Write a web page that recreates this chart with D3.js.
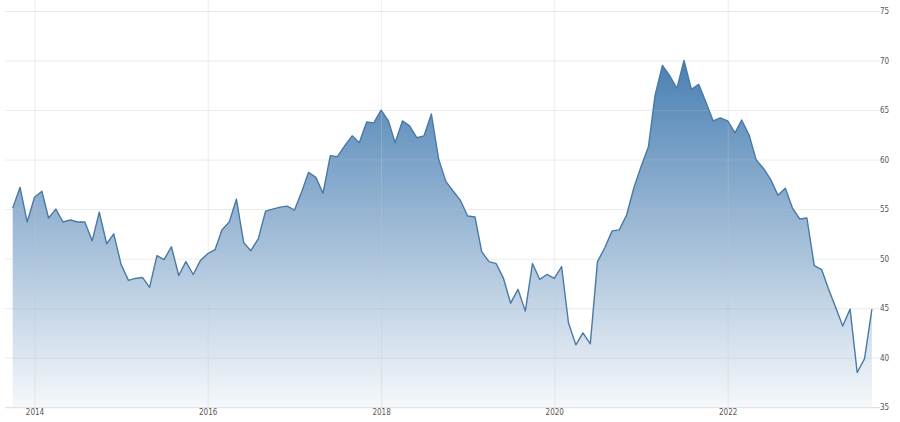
<!DOCTYPE html>
<html>
<head>
<meta charset="utf-8">
<script src="https://cdn.jsdelivr.net/npm/d3@7"></script>
<style>
  html, body { margin: 0; padding: 0; background: #fff; }
  #wrapper { width: 900px; height: 422px; }
  .tick text { font-family: "Liberation Sans Narrow", "Arial Narrow", "DejaVu Sans Condensed", sans-serif; font-size: 8px; fill: #555; }
</style>
</head>
<body>
<div id="wrapper"></div>
<script>
// monthly readings, Oct 2013 .. Sep 2023
const startMonth = "2013-10";
const values = [
  55.1, 57.2, 53.7, 56.2, 56.8, 54.1, 55.0, 53.7, 53.9, 53.7, 53.7, 51.8,
  54.7, 51.5, 52.5, 49.4, 47.8, 48.0, 48.1, 47.1, 50.3, 49.9, 51.2, 48.3,
  49.7, 48.4, 49.8, 50.5, 50.9, 52.9, 53.7, 56.0, 51.6, 50.8, 52.0, 54.8,
  55.0, 55.2, 55.3, 54.9, 56.8, 58.7, 58.2, 56.6, 60.4, 60.3, 61.4, 62.4,
  61.7, 63.8, 63.7, 65.0, 63.9, 61.7, 63.9, 63.4, 62.2, 62.4, 64.6, 60.0,
  57.8, 56.8, 55.9, 54.3, 54.2, 50.7, 49.7, 49.5, 48.0, 45.5, 46.9, 44.7,
  49.5, 47.9, 48.4, 48.0, 49.2, 43.5, 41.3, 42.5, 41.4, 49.7, 51.1, 52.8,
  52.9, 54.4, 57.1, 59.3, 61.3, 66.5, 69.5, 68.5, 67.2, 70.0, 67.1, 67.6,
  65.8, 63.9, 64.2, 63.9, 62.7, 64.0, 62.5, 60.0, 59.1, 58.0, 56.4, 57.1,
  55.1, 54.0, 54.1, 49.3, 48.9, 47.0, 45.1, 43.2, 44.9, 38.5, 39.9, 44.9
];
const yTicks = [35, 40, 45, 50, 55, 60, 65, 70, 75];
const xTickYears = [2014, 2016, 2018, 2020, 2022];

function drawChart() {
  const parseMonth = d3.timeParse("%Y-%m");
  const first = parseMonth(startMonth);
  const data = values.map((v, i) => ({ date: d3.timeMonth.offset(first, i), value: v }));

  const xAcc = d => d.date;
  const yAcc = d => d.value;

  let dimensions = {
    width: 900,
    height: 422,
    plotLeft: 12.7,
    plotRight: 871.9,
    top: 11,
    bottom: 407.2
  };

  let wrapper = d3.select("#wrapper").append("svg")
    .attr("width", dimensions.width)
    .attr("height", dimensions.height);

  let xScale = d3.scaleTime()
    .domain(d3.extent(data, xAcc))
    .range([dimensions.plotLeft, dimensions.plotRight]);

  let yScale = d3.scaleLinear()
    .domain([35, 75])
    .range([dimensions.bottom, dimensions.top]);

  // gradient for the area, dark at the top of the data, nearly white at the base
  const defs = wrapper.append("defs");
  const grad = defs.append("linearGradient")
    .attr("id", "areaFill")
    .attr("gradientUnits", "userSpaceOnUse")
    .attr("x1", 0).attr("x2", 0)
    .attr("y1", yScale(d3.max(data, yAcc)))
    .attr("y2", dimensions.bottom);
  grad.append("stop").attr("offset", "0%").attr("stop-color", "#4a80b3");
  grad.append("stop").attr("offset", "100%").attr("stop-color", "#f6f8fb");

  const area = d3.area()
    .x(d => xScale(xAcc(d)))
    .y0(dimensions.bottom)
    .y1(d => yScale(yAcc(d)));

  const line = d3.line()
    .x(d => xScale(xAcc(d)))
    .y(d => yScale(yAcc(d)));

  wrapper.append("path")
    .datum(data)
    .attr("d", area)
    .attr("fill", "url(#areaFill)");

  // horizontal grid + right labels (drawn over the fill, faint)
  const yAxisGen = d3.axisRight(yScale)
    .tickValues(yTicks)
    .tickSize(-(880 - 5))
    .tickPadding(3);
  const axisY = wrapper.append("g")
    .attr("transform", "translate(880,0)")
    .call(yAxisGen);
  axisY.select(".domain").remove();
  axisY.selectAll(".tick line").attr("stroke", "rgba(190,190,190,0.3)");
  axisY.selectAll(".tick line").filter(d => d === 35).attr("stroke", "#dcdcdc");
  axisY.selectAll(".tick text").attr("x", 0).attr("text-anchor", "start");

  // vertical grid + bottom labels
  const xAxisGen = d3.axisBottom(xScale)
    .tickValues(xTickYears.map(y => new Date(y, 0, 1)))
    .tickFormat(d3.timeFormat("%Y"))
    .tickSize(dimensions.bottom)
    .tickPadding(2);
  const axisX = wrapper.append("g").call(xAxisGen);
  axisX.select(".domain").remove();
  axisX.selectAll(".tick line").attr("stroke", "rgba(200,200,200,0.35)");

  wrapper.append("path")
    .datum(data)
    .attr("d", line)
    .attr("fill", "none")
    .attr("stroke", "#4a79a6")
    .attr("stroke-width", 1.4)
    .attr("stroke-linejoin", "round");
}

drawChart();
</script>
</body>
</html>
